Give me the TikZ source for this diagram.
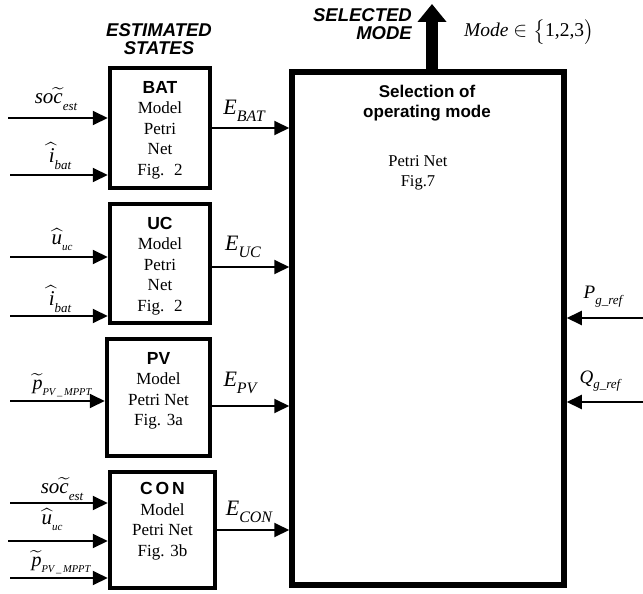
\documentclass[tikz,border=0pt]{standalone}
\usepackage{amsmath}
\usepackage{fontspec}
\setmainfont{Liberation Serif}
\setsansfont{Liberation Sans}
\usetikzlibrary{arrows.meta}

\tikzset{
  model/.style={draw,line width=4.5pt,inner sep=0pt},
  boxtext/.style={align=center,inner sep=0pt,font=\fontsize{17}{20.5}\selectfont},
  sig/.style={line width=2pt,-{Triangle[length=15pt,width=14pt]}},
  lbl/.style={inner sep=0pt,font=\fontsize{21}{21}\selectfont\itshape},
  head/.style={inner sep=0pt,align=center,font=\fontsize{18.5}{18}\selectfont\sffamily\bfseries\itshape},
}
\newcommand{\hd}[1]{{\fontsize{17.5}{18}\selectfont\sffamily\bfseries #1}}
\newcommand{\ssub}[2][13]{\raisebox{-.3em}{\fontsize{#1}{#1}\selectfont\itshape #2}}
\newcommand{\wt}[1]{$\widetilde{\text{\itshape #1}}$}
\newcommand{\wh}[1]{$\widehat{\text{\itshape #1}}$}

\begin{document}
\begin{tikzpicture}[x=1pt,y=-1pt]
\useasboundingbox (0,0) rectangle (643,594);
% blocks
\node[model,minimum width=100pt,minimum height=120pt] (bat) at (160,128) {};
\node[model,minimum width=100pt,minimum height=119pt] (uc) at (160,263.5) {};
\node[model,minimum width=103pt,minimum height=117pt] (pv) at (158.5,397.5) {};
\node[model,minimum width=105pt,minimum height=116pt] (con) at (162.5,530) {};
\node[model,line width=5.5pt,minimum width=272pt,minimum height=513pt] (main) at (428,328.5) {};
\node[boxtext] (battxt) at (160,130) {\hd{BAT}\\Model\\Petri\\Net\\Fig.~ 2};
\node[boxtext] (uctxt) at (160,266) {\hd{UC}\\Model\\Petri\\Net\\Fig.~ 2};
\node[boxtext] (pvtxt) at (158.5,391) {\hd{PV}\\Model\\Petri Net\\Fig. 3a};
\node[boxtext] (contxt) at (162.5,521) {\hd{C\,O\,N}\\Model\\Petri Net\\Fig. 3b};
\node[align=center,inner sep=0pt,font=\fontsize{17}{20}\selectfont\sffamily\bfseries] (seltxt) at (427,103) {Selection of\\operating mode};
\node[boxtext,font=\fontsize{16.5}{20}\selectfont] (pntxt) at (418,173) {Petri Net\\Fig.7};
\node[head] (est) at (159,39) {ESTIMATED\\STATES};
\node[head,align=right,anchor=east] (sel) at (412,24) {SELECTED\\MODE};
\node[inner sep=0pt,anchor=base west,font=\fontsize{19.5}{19.5}\selectfont] (modeset) at (464,37) {\textit{Mode} $\in\bigl\{$1,2,3$\bigr)$};
% inputs
\coordinate (s1) at (8,118);
\coordinate (s2) at (10,175);
\coordinate (s3) at (10,257);
\coordinate (s4) at (10,316);
\coordinate (s5) at (10,401);
\coordinate (s6) at (10,503);
\coordinate (s7) at (8,541);
\coordinate (s8) at (10,578);
\coordinate (r1) at (643,318);
\coordinate (r2) at (643,402);
\foreach \s/\b in {s1/bat,s2/bat,s3/uc,s4/uc,s5/pv,s6/con,s7/con,s8/con}
  \draw[sig] (\s) -- (\s -| \b.west);
\draw[sig] (r1) -- (r1 -| main.east);
\draw[sig] (r2) -- (r2 -| main.east);
\node[lbl] (l1) at (56,99) {so\wt{c}\ssub{est}};
\node[lbl] (l2) at (60,156) {\wh{i}\ssub{bat}};
\node[lbl] (l3) at (62,240) {\wh{u}\ssub[11]{uc}};
\node[lbl] (l4) at (60,299) {\wh{i}\ssub{bat}};
\node[lbl,font=\fontsize{20}{20}\selectfont\itshape] (l5) at (62,385) {\wt{p}\ssub[10.5]{PV\,\_\,MPPT}};
\node[lbl] (l6) at (62,489) {so\wt{c}\ssub{est}};
\node[lbl] (l7) at (52,520) {\wh{u}\ssub[11]{uc}};
\node[lbl,font=\fontsize{20}{20}\selectfont\itshape] (l8) at (61,562) {\wt{p}\ssub[10.5]{PV\,\_\,MPPT}};
\node[lbl,font=\fontsize{19}{19}\selectfont\itshape] (l9) at (603,297) {P\ssub{g\_ref}};
\node[lbl,font=\fontsize{19}{19}\selectfont\itshape] (l10) at (600,381) {Q\ssub{g\_ref}};
% estimated states to selection
\coordinate (ebat) at (bat.east);
\coordinate (euc) at ([yshift=-3.5pt]uc.east);
\coordinate (epv) at ([yshift=-8.5pt]pv.east);
\coordinate (econ) at (con.east);
\foreach \e in {ebat,euc,epv,econ}
  \draw[sig] (\e) -- (\e -| main.west);
\node[lbl,font=\fontsize{22}{22}\selectfont\itshape] (lbat) at (244,111) {E\ssub[16]{BAT}};
\node[lbl,font=\fontsize{22}{22}\selectfont\itshape] (luc) at (243,247) {E\ssub[16]{UC}};
\node[lbl,font=\fontsize{22}{22}\selectfont\itshape] (lpv) at (240,383) {E\ssub[16]{PV}};
\node[lbl,font=\fontsize{22}{22}\selectfont\itshape] (lcon) at (249,512) {E\ssub[16]{CON}};
% selected mode
\coordinate (mode) at (432,4);
\draw[line width=12pt,-{Triangle[length=18pt,width=28pt]}] (main.north -| mode) -- (mode);
\end{tikzpicture}
\end{document}
